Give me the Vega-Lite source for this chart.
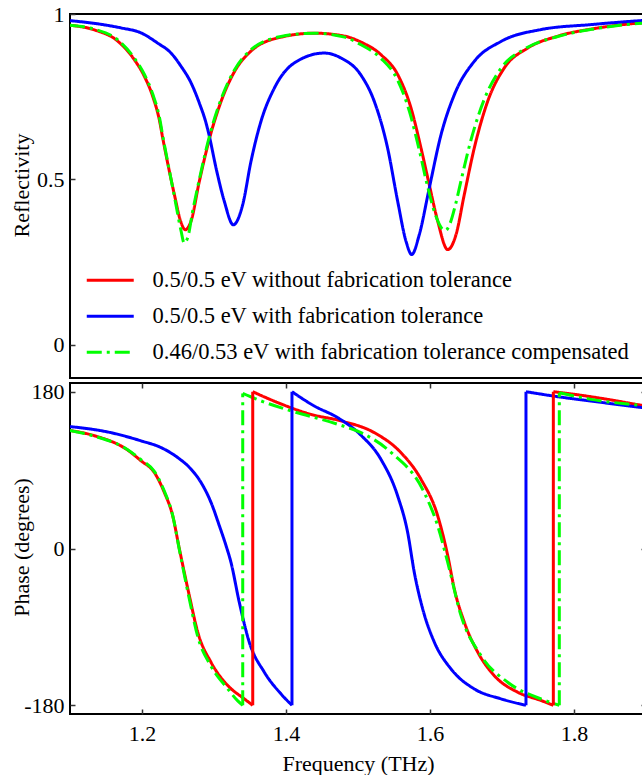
{
  "$schema": "https://vega.github.io/schema/vega-lite/v6.json",
  "padding": {"left": 9, "top": 2, "right": 0, "bottom": 0},
  "background": "white",
  "config": {
    "font": "Liberation Serif",
    "view": {"stroke": "black", "strokeWidth": 2},
    "axis": {
      "labelFont": "Liberation Serif", "labelFontSize": 22, "labelColor": "black",
      "titleFont": "Liberation Serif", "titleFontSize": 22, "titleFontWeight": "normal", "titleColor": "black",
      "grid": false, "domain": false, "tickSize": -5, "tickColor": "#333", "tickWidth": 1.5
    },
    "legend": {"padding": 0}
  },
  "datasets": {
    "refl": [
      {"s": "0.5/0.5 eV without fabrication tolerance", "f": 1.1, "r": 0.966},
      {"s": "0.5/0.5 eV without fabrication tolerance", "f": 1.1338, "r": 0.952},
      {"s": "0.5/0.5 eV without fabrication tolerance", "f": 1.1663, "r": 0.918},
      {"s": "0.5/0.5 eV without fabrication tolerance", "f": 1.1893, "r": 0.862},
      {"s": "0.5/0.5 eV without fabrication tolerance", "f": 1.2032, "r": 0.812},
      {"s": "0.5/0.5 eV without fabrication tolerance", "f": 1.2149, "r": 0.751},
      {"s": "0.5/0.5 eV without fabrication tolerance", "f": 1.224, "r": 0.681},
      {"s": "0.5/0.5 eV without fabrication tolerance", "f": 1.2288, "r": 0.625},
      {"s": "0.5/0.5 eV without fabrication tolerance", "f": 1.2333, "r": 0.575},
      {"s": "0.5/0.5 eV without fabrication tolerance", "f": 1.2449, "r": 0.455},
      {"s": "0.5/0.5 eV without fabrication tolerance", "f": 1.2542, "r": 0.37},
      {"s": "0.5/0.5 eV without fabrication tolerance", "f": 1.2601, "r": 0.348},
      {"s": "0.5/0.5 eV without fabrication tolerance", "f": 1.2681, "r": 0.374},
      {"s": "0.5/0.5 eV without fabrication tolerance", "f": 1.2796, "r": 0.494},
      {"s": "0.5/0.5 eV without fabrication tolerance", "f": 1.2958, "r": 0.64},
      {"s": "0.5/0.5 eV without fabrication tolerance", "f": 1.3097, "r": 0.735},
      {"s": "0.5/0.5 eV without fabrication tolerance", "f": 1.3282, "r": 0.825},
      {"s": "0.5/0.5 eV without fabrication tolerance", "f": 1.3514, "r": 0.888},
      {"s": "0.5/0.5 eV without fabrication tolerance", "f": 1.3931, "r": 0.93},
      {"s": "0.5/0.5 eV without fabrication tolerance", "f": 1.4393, "r": 0.942},
      {"s": "0.5/0.5 eV without fabrication tolerance", "f": 1.4815, "r": 0.933},
      {"s": "0.5/0.5 eV without fabrication tolerance", "f": 1.5042, "r": 0.915},
      {"s": "0.5/0.5 eV without fabrication tolerance", "f": 1.5319, "r": 0.877},
      {"s": "0.5/0.5 eV without fabrication tolerance", "f": 1.5551, "r": 0.817},
      {"s": "0.5/0.5 eV without fabrication tolerance", "f": 1.5736, "r": 0.716},
      {"s": "0.5/0.5 eV without fabrication tolerance", "f": 1.5875, "r": 0.595},
      {"s": "0.5/0.5 eV without fabrication tolerance", "f": 1.599, "r": 0.484},
      {"s": "0.5/0.5 eV without fabrication tolerance", "f": 1.6107, "r": 0.374},
      {"s": "0.5/0.5 eV without fabrication tolerance", "f": 1.6246, "r": 0.288},
      {"s": "0.5/0.5 eV without fabrication tolerance", "f": 1.6361, "r": 0.333},
      {"s": "0.5/0.5 eV without fabrication tolerance", "f": 1.6476, "r": 0.454},
      {"s": "0.5/0.5 eV without fabrication tolerance", "f": 1.6615, "r": 0.595},
      {"s": "0.5/0.5 eV without fabrication tolerance", "f": 1.6801, "r": 0.736},
      {"s": "0.5/0.5 eV without fabrication tolerance", "f": 1.7032, "r": 0.837},
      {"s": "0.5/0.5 eV without fabrication tolerance", "f": 1.7357, "r": 0.897},
      {"s": "0.5/0.5 eV without fabrication tolerance", "f": 1.7774, "r": 0.933},
      {"s": "0.5/0.5 eV without fabrication tolerance", "f": 1.8282, "r": 0.956},
      {"s": "0.5/0.5 eV without fabrication tolerance", "f": 1.8931, "r": 0.973},
      {"s": "0.5/0.5 eV without fabrication tolerance", "f": 1.9, "r": 0.974},

      {"s": "0.5/0.5 eV with fabrication tolerance", "f": 1.1, "r": 0.98},
      {"s": "0.5/0.5 eV with fabrication tolerance", "f": 1.1425, "r": 0.969},
      {"s": "0.5/0.5 eV with fabrication tolerance", "f": 1.1708, "r": 0.958},
      {"s": "0.5/0.5 eV with fabrication tolerance", "f": 1.1986, "r": 0.943},
      {"s": "0.5/0.5 eV with fabrication tolerance", "f": 1.2218, "r": 0.912},
      {"s": "0.5/0.5 eV with fabrication tolerance", "f": 1.2403, "r": 0.882},
      {"s": "0.5/0.5 eV with fabrication tolerance", "f": 1.2542, "r": 0.842},
      {"s": "0.5/0.5 eV with fabrication tolerance", "f": 1.2681, "r": 0.792},
      {"s": "0.5/0.5 eV with fabrication tolerance", "f": 1.2796, "r": 0.731},
      {"s": "0.5/0.5 eV with fabrication tolerance", "f": 1.2889, "r": 0.671},
      {"s": "0.5/0.5 eV with fabrication tolerance", "f": 1.2935, "r": 0.631},
      {"s": "0.5/0.5 eV with fabrication tolerance", "f": 1.3028, "r": 0.535},
      {"s": "0.5/0.5 eV with fabrication tolerance", "f": 1.3143, "r": 0.434},
      {"s": "0.5/0.5 eV with fabrication tolerance", "f": 1.3268, "r": 0.363},
      {"s": "0.5/0.5 eV with fabrication tolerance", "f": 1.3399, "r": 0.424},
      {"s": "0.5/0.5 eV with fabrication tolerance", "f": 1.3514, "r": 0.555},
      {"s": "0.5/0.5 eV with fabrication tolerance", "f": 1.3653, "r": 0.676},
      {"s": "0.5/0.5 eV with fabrication tolerance", "f": 1.3838, "r": 0.776},
      {"s": "0.5/0.5 eV with fabrication tolerance", "f": 1.4115, "r": 0.852},
      {"s": "0.5/0.5 eV with fabrication tolerance", "f": 1.4532, "r": 0.882},
      {"s": "0.5/0.5 eV with fabrication tolerance", "f": 1.4764, "r": 0.867},
      {"s": "0.5/0.5 eV with fabrication tolerance", "f": 1.5042, "r": 0.815},
      {"s": "0.5/0.5 eV with fabrication tolerance", "f": 1.5226, "r": 0.736},
      {"s": "0.5/0.5 eV with fabrication tolerance", "f": 1.5411, "r": 0.595},
      {"s": "0.5/0.5 eV with fabrication tolerance", "f": 1.5551, "r": 0.434},
      {"s": "0.5/0.5 eV with fabrication tolerance", "f": 1.5667, "r": 0.313},
      {"s": "0.5/0.5 eV with fabrication tolerance", "f": 1.5746, "r": 0.273},
      {"s": "0.5/0.5 eV with fabrication tolerance", "f": 1.5851, "r": 0.333},
      {"s": "0.5/0.5 eV with fabrication tolerance", "f": 1.599, "r": 0.474},
      {"s": "0.5/0.5 eV with fabrication tolerance", "f": 1.6153, "r": 0.635},
      {"s": "0.5/0.5 eV with fabrication tolerance", "f": 1.6338, "r": 0.756},
      {"s": "0.5/0.5 eV with fabrication tolerance", "f": 1.6615, "r": 0.857},
      {"s": "0.5/0.5 eV with fabrication tolerance", "f": 1.6986, "r": 0.917},
      {"s": "0.5/0.5 eV with fabrication tolerance", "f": 1.7542, "r": 0.953},
      {"s": "0.5/0.5 eV with fabrication tolerance", "f": 1.8236, "r": 0.968},
      {"s": "0.5/0.5 eV with fabrication tolerance", "f": 1.8931, "r": 0.98},
      {"s": "0.5/0.5 eV with fabrication tolerance", "f": 1.9, "r": 0.981},

      {"s": "0.46/0.53 eV with fabrication tolerance compensated", "f": 1.1, "r": 0.966},
      {"s": "0.46/0.53 eV with fabrication tolerance compensated", "f": 1.1338, "r": 0.954},
      {"s": "0.46/0.53 eV with fabrication tolerance compensated", "f": 1.1663, "r": 0.922},
      {"s": "0.46/0.53 eV with fabrication tolerance compensated", "f": 1.1893, "r": 0.867},
      {"s": "0.46/0.53 eV with fabrication tolerance compensated", "f": 1.2032, "r": 0.818},
      {"s": "0.46/0.53 eV with fabrication tolerance compensated", "f": 1.2149, "r": 0.758},
      {"s": "0.46/0.53 eV with fabrication tolerance compensated", "f": 1.224, "r": 0.69},
      {"s": "0.46/0.53 eV with fabrication tolerance compensated", "f": 1.2288, "r": 0.632},
      {"s": "0.46/0.53 eV with fabrication tolerance compensated", "f": 1.2333, "r": 0.58},
      {"s": "0.46/0.53 eV with fabrication tolerance compensated", "f": 1.2449, "r": 0.45},
      {"s": "0.46/0.53 eV with fabrication tolerance compensated", "f": 1.2542, "r": 0.345},
      {"s": "0.46/0.53 eV with fabrication tolerance compensated", "f": 1.2585, "r": 0.308},
      {"s": "0.46/0.53 eV with fabrication tolerance compensated", "f": 1.264, "r": 0.328},
      {"s": "0.46/0.53 eV with fabrication tolerance compensated", "f": 1.27, "r": 0.4},
      {"s": "0.46/0.53 eV with fabrication tolerance compensated", "f": 1.2796, "r": 0.5},
      {"s": "0.46/0.53 eV with fabrication tolerance compensated", "f": 1.2958, "r": 0.648},
      {"s": "0.46/0.53 eV with fabrication tolerance compensated", "f": 1.3097, "r": 0.742},
      {"s": "0.46/0.53 eV with fabrication tolerance compensated", "f": 1.3282, "r": 0.83},
      {"s": "0.46/0.53 eV with fabrication tolerance compensated", "f": 1.3514, "r": 0.892},
      {"s": "0.46/0.53 eV with fabrication tolerance compensated", "f": 1.3931, "r": 0.932},
      {"s": "0.46/0.53 eV with fabrication tolerance compensated", "f": 1.4393, "r": 0.942},
      {"s": "0.46/0.53 eV with fabrication tolerance compensated", "f": 1.4815, "r": 0.93},
      {"s": "0.46/0.53 eV with fabrication tolerance compensated", "f": 1.5042, "r": 0.907},
      {"s": "0.46/0.53 eV with fabrication tolerance compensated", "f": 1.5319, "r": 0.866},
      {"s": "0.46/0.53 eV with fabrication tolerance compensated", "f": 1.5551, "r": 0.8},
      {"s": "0.46/0.53 eV with fabrication tolerance compensated", "f": 1.5715, "r": 0.705},
      {"s": "0.46/0.53 eV with fabrication tolerance compensated", "f": 1.585, "r": 0.59},
      {"s": "0.46/0.53 eV with fabrication tolerance compensated", "f": 1.5965, "r": 0.48},
      {"s": "0.46/0.53 eV with fabrication tolerance compensated", "f": 1.608, "r": 0.39},
      {"s": "0.46/0.53 eV with fabrication tolerance compensated", "f": 1.6165, "r": 0.352},
      {"s": "0.46/0.53 eV with fabrication tolerance compensated", "f": 1.6215, "r": 0.346},
      {"s": "0.46/0.53 eV with fabrication tolerance compensated", "f": 1.6275, "r": 0.365},
      {"s": "0.46/0.53 eV with fabrication tolerance compensated", "f": 1.635, "r": 0.42},
      {"s": "0.46/0.53 eV with fabrication tolerance compensated", "f": 1.6435, "r": 0.5},
      {"s": "0.46/0.53 eV with fabrication tolerance compensated", "f": 1.657, "r": 0.62},
      {"s": "0.46/0.53 eV with fabrication tolerance compensated", "f": 1.675, "r": 0.74},
      {"s": "0.46/0.53 eV with fabrication tolerance compensated", "f": 1.699, "r": 0.837},
      {"s": "0.46/0.53 eV with fabrication tolerance compensated", "f": 1.732, "r": 0.895},
      {"s": "0.46/0.53 eV with fabrication tolerance compensated", "f": 1.7774, "r": 0.932},
      {"s": "0.46/0.53 eV with fabrication tolerance compensated", "f": 1.8282, "r": 0.955},
      {"s": "0.46/0.53 eV with fabrication tolerance compensated", "f": 1.8931, "r": 0.972},
      {"s": "0.46/0.53 eV with fabrication tolerance compensated", "f": 1.9, "r": 0.973}
    ],
    "phase": [
      {"s": "0.5/0.5 eV without fabrication tolerance", "seg": 1, "f": 1.1, "p": 135.5},
      {"s": "0.5/0.5 eV without fabrication tolerance", "seg": 1, "f": 1.1338, "p": 129.5},
      {"s": "0.5/0.5 eV without fabrication tolerance", "seg": 1, "f": 1.1801, "p": 113},
      {"s": "0.5/0.5 eV without fabrication tolerance", "seg": 1, "f": 1.1986, "p": 100.7},
      {"s": "0.5/0.5 eV without fabrication tolerance", "seg": 1, "f": 1.2171, "p": 87.3},
      {"s": "0.5/0.5 eV without fabrication tolerance", "seg": 1, "f": 1.231, "p": 64.4},
      {"s": "0.5/0.5 eV without fabrication tolerance", "seg": 1, "f": 1.2426, "p": 37.7},
      {"s": "0.5/0.5 eV without fabrication tolerance", "seg": 1, "f": 1.2518, "p": 0},
      {"s": "0.5/0.5 eV without fabrication tolerance", "seg": 1, "f": 1.2657, "p": -54},
      {"s": "0.5/0.5 eV without fabrication tolerance", "seg": 1, "f": 1.2774, "p": -96},
      {"s": "0.5/0.5 eV without fabrication tolerance", "seg": 1, "f": 1.2958, "p": -130.5},
      {"s": "0.5/0.5 eV without fabrication tolerance", "seg": 1, "f": 1.319, "p": -157.2},
      {"s": "0.5/0.5 eV without fabrication tolerance", "seg": 1, "f": 1.3421, "p": -172.6},
      {"s": "0.5/0.5 eV without fabrication tolerance", "seg": 1, "f": 1.3538, "p": -180},
      {"s": "0.5/0.5 eV without fabrication tolerance", "seg": 2, "f": 1.3538, "p": 180},
      {"s": "0.5/0.5 eV without fabrication tolerance", "seg": 2, "f": 1.3885, "p": 167.5},
      {"s": "0.5/0.5 eV without fabrication tolerance", "seg": 2, "f": 1.4347, "p": 154},
      {"s": "0.5/0.5 eV without fabrication tolerance", "seg": 2, "f": 1.4764, "p": 146.5},
      {"s": "0.5/0.5 eV without fabrication tolerance", "seg": 2, "f": 1.5226, "p": 133},
      {"s": "0.5/0.5 eV without fabrication tolerance", "seg": 2, "f": 1.5597, "p": 110},
      {"s": "0.5/0.5 eV without fabrication tolerance", "seg": 2, "f": 1.5875, "p": 79.5},
      {"s": "0.5/0.5 eV without fabrication tolerance", "seg": 2, "f": 1.6107, "p": 37.5},
      {"s": "0.5/0.5 eV without fabrication tolerance", "seg": 2, "f": 1.6246, "p": -8},
      {"s": "0.5/0.5 eV without fabrication tolerance", "seg": 2, "f": 1.6338, "p": -46.5},
      {"s": "0.5/0.5 eV without fabrication tolerance", "seg": 2, "f": 1.6476, "p": -84.5},
      {"s": "0.5/0.5 eV without fabrication tolerance", "seg": 2, "f": 1.6663, "p": -119},
      {"s": "0.5/0.5 eV without fabrication tolerance", "seg": 2, "f": 1.6893, "p": -146},
      {"s": "0.5/0.5 eV without fabrication tolerance", "seg": 2, "f": 1.7218, "p": -165},
      {"s": "0.5/0.5 eV without fabrication tolerance", "seg": 2, "f": 1.7542, "p": -174.5},
      {"s": "0.5/0.5 eV without fabrication tolerance", "seg": 2, "f": 1.7713, "p": -180},
      {"s": "0.5/0.5 eV without fabrication tolerance", "seg": 3, "f": 1.7713, "p": 180},
      {"s": "0.5/0.5 eV without fabrication tolerance", "seg": 3, "f": 1.8004, "p": 177},
      {"s": "0.5/0.5 eV without fabrication tolerance", "seg": 3, "f": 1.8468, "p": 171.2},
      {"s": "0.5/0.5 eV without fabrication tolerance", "seg": 3, "f": 1.8958, "p": 164.3},
      {"s": "0.5/0.5 eV without fabrication tolerance", "seg": 3, "f": 1.9, "p": 163.8},

      {"s": "0.5/0.5 eV with fabrication tolerance", "seg": 1, "f": 1.1, "p": 140},
      {"s": "0.5/0.5 eV with fabrication tolerance", "seg": 1, "f": 1.1569, "p": 133},
      {"s": "0.5/0.5 eV with fabrication tolerance", "seg": 1, "f": 1.1986, "p": 123.6},
      {"s": "0.5/0.5 eV with fabrication tolerance", "seg": 1, "f": 1.2264, "p": 115.9},
      {"s": "0.5/0.5 eV with fabrication tolerance", "seg": 1, "f": 1.2496, "p": 104.4},
      {"s": "0.5/0.5 eV with fabrication tolerance", "seg": 1, "f": 1.2681, "p": 91.1},
      {"s": "0.5/0.5 eV with fabrication tolerance", "seg": 1, "f": 1.2819, "p": 75.9},
      {"s": "0.5/0.5 eV with fabrication tolerance", "seg": 1, "f": 1.2958, "p": 53},
      {"s": "0.5/0.5 eV with fabrication tolerance", "seg": 1, "f": 1.3074, "p": 26.2},
      {"s": "0.5/0.5 eV with fabrication tolerance", "seg": 1, "f": 1.3167, "p": 3.3},
      {"s": "0.5/0.5 eV with fabrication tolerance", "seg": 1, "f": 1.3236, "p": -16},
      {"s": "0.5/0.5 eV with fabrication tolerance", "seg": 1, "f": 1.3351, "p": -61.7},
      {"s": "0.5/0.5 eV with fabrication tolerance", "seg": 1, "f": 1.349, "p": -107.5},
      {"s": "0.5/0.5 eV with fabrication tolerance", "seg": 1, "f": 1.3699, "p": -142},
      {"s": "0.5/0.5 eV with fabrication tolerance", "seg": 1, "f": 1.3931, "p": -167},
      {"s": "0.5/0.5 eV with fabrication tolerance", "seg": 1, "f": 1.4083, "p": -180},
      {"s": "0.5/0.5 eV with fabrication tolerance", "seg": 2, "f": 1.4083, "p": 180},
      {"s": "0.5/0.5 eV with fabrication tolerance", "seg": 2, "f": 1.4393, "p": 163.6},
      {"s": "0.5/0.5 eV with fabrication tolerance", "seg": 2, "f": 1.4718, "p": 150.2},
      {"s": "0.5/0.5 eV with fabrication tolerance", "seg": 2, "f": 1.5042, "p": 130},
      {"s": "0.5/0.5 eV with fabrication tolerance", "seg": 2, "f": 1.5319, "p": 102.3},
      {"s": "0.5/0.5 eV with fabrication tolerance", "seg": 2, "f": 1.5551, "p": 60.3},
      {"s": "0.5/0.5 eV with fabrication tolerance", "seg": 2, "f": 1.569, "p": 18.3},
      {"s": "0.5/0.5 eV with fabrication tolerance", "seg": 2, "f": 1.5782, "p": -27.5},
      {"s": "0.5/0.5 eV with fabrication tolerance", "seg": 2, "f": 1.5899, "p": -69.5},
      {"s": "0.5/0.5 eV with fabrication tolerance", "seg": 2, "f": 1.606, "p": -107.5},
      {"s": "0.5/0.5 eV with fabrication tolerance", "seg": 2, "f": 1.6292, "p": -138.3},
      {"s": "0.5/0.5 eV with fabrication tolerance", "seg": 2, "f": 1.6615, "p": -161.2},
      {"s": "0.5/0.5 eV with fabrication tolerance", "seg": 2, "f": 1.6986, "p": -172.6},
      {"s": "0.5/0.5 eV with fabrication tolerance", "seg": 2, "f": 1.7333, "p": -180},
      {"s": "0.5/0.5 eV with fabrication tolerance", "seg": 3, "f": 1.7333, "p": 180},
      {"s": "0.5/0.5 eV with fabrication tolerance", "seg": 3, "f": 1.7774, "p": 174.3},
      {"s": "0.5/0.5 eV with fabrication tolerance", "seg": 3, "f": 1.8236, "p": 169.3},
      {"s": "0.5/0.5 eV with fabrication tolerance", "seg": 3, "f": 1.8958, "p": 161.7},
      {"s": "0.5/0.5 eV with fabrication tolerance", "seg": 3, "f": 1.9, "p": 161.3},

      {"s": "0.46/0.53 eV with fabrication tolerance compensated", "seg": 1, "f": 1.1, "p": 135.5},
      {"s": "0.46/0.53 eV with fabrication tolerance compensated", "seg": 1, "f": 1.1338, "p": 129},
      {"s": "0.46/0.53 eV with fabrication tolerance compensated", "seg": 1, "f": 1.1801, "p": 113.5},
      {"s": "0.46/0.53 eV with fabrication tolerance compensated", "seg": 1, "f": 1.1986, "p": 102},
      {"s": "0.46/0.53 eV with fabrication tolerance compensated", "seg": 1, "f": 1.2171, "p": 88.5},
      {"s": "0.46/0.53 eV with fabrication tolerance compensated", "seg": 1, "f": 1.231, "p": 66},
      {"s": "0.46/0.53 eV with fabrication tolerance compensated", "seg": 1, "f": 1.2426, "p": 38},
      {"s": "0.46/0.53 eV with fabrication tolerance compensated", "seg": 1, "f": 1.2518, "p": -1},
      {"s": "0.46/0.53 eV with fabrication tolerance compensated", "seg": 1, "f": 1.2657, "p": -58},
      {"s": "0.46/0.53 eV with fabrication tolerance compensated", "seg": 1, "f": 1.2774, "p": -101},
      {"s": "0.46/0.53 eV with fabrication tolerance compensated", "seg": 1, "f": 1.2958, "p": -135},
      {"s": "0.46/0.53 eV with fabrication tolerance compensated", "seg": 1, "f": 1.319, "p": -161},
      {"s": "0.46/0.53 eV with fabrication tolerance compensated", "seg": 1, "f": 1.333, "p": -175},
      {"s": "0.46/0.53 eV with fabrication tolerance compensated", "seg": 1, "f": 1.3399, "p": -180},
      {"s": "0.46/0.53 eV with fabrication tolerance compensated", "seg": 2, "f": 1.3399, "p": 178},
      {"s": "0.46/0.53 eV with fabrication tolerance compensated", "seg": 2, "f": 1.3653, "p": 169.4},
      {"s": "0.46/0.53 eV with fabrication tolerance compensated", "seg": 2, "f": 1.4069, "p": 158},
      {"s": "0.46/0.53 eV with fabrication tolerance compensated", "seg": 2, "f": 1.4718, "p": 142.6},
      {"s": "0.46/0.53 eV with fabrication tolerance compensated", "seg": 2, "f": 1.5042, "p": 133},
      {"s": "0.46/0.53 eV with fabrication tolerance compensated", "seg": 2, "f": 1.5458, "p": 110.4},
      {"s": "0.46/0.53 eV with fabrication tolerance compensated", "seg": 2, "f": 1.5921, "p": 64},
      {"s": "0.46/0.53 eV with fabrication tolerance compensated", "seg": 2, "f": 1.6107, "p": 26},
      {"s": "0.46/0.53 eV with fabrication tolerance compensated", "seg": 2, "f": 1.6246, "p": -16},
      {"s": "0.46/0.53 eV with fabrication tolerance compensated", "seg": 2, "f": 1.6431, "p": -77},
      {"s": "0.46/0.53 eV with fabrication tolerance compensated", "seg": 2, "f": 1.6708, "p": -123},
      {"s": "0.46/0.53 eV with fabrication tolerance compensated", "seg": 2, "f": 1.7079, "p": -153.6},
      {"s": "0.46/0.53 eV with fabrication tolerance compensated", "seg": 2, "f": 1.7542, "p": -172.8},
      {"s": "0.46/0.53 eV with fabrication tolerance compensated", "seg": 2, "f": 1.7796, "p": -180},
      {"s": "0.46/0.53 eV with fabrication tolerance compensated", "seg": 3, "f": 1.7796, "p": 178.9},
      {"s": "0.46/0.53 eV with fabrication tolerance compensated", "seg": 3, "f": 1.8236, "p": 171.2},
      {"s": "0.46/0.53 eV with fabrication tolerance compensated", "seg": 3, "f": 1.8958, "p": 164},
      {"s": "0.46/0.53 eV with fabrication tolerance compensated", "seg": 3, "f": 1.9, "p": 163.6}
    ],
    "jumps": [
      {"s": "0.5/0.5 eV without fabrication tolerance", "f": 1.3538, "lo": -180, "hi": 180},
      {"s": "0.5/0.5 eV without fabrication tolerance", "f": 1.7713, "lo": -180, "hi": 180},
      {"s": "0.5/0.5 eV with fabrication tolerance", "f": 1.4083, "lo": -180, "hi": 180},
      {"s": "0.5/0.5 eV with fabrication tolerance", "f": 1.7333, "lo": -180, "hi": 180},
      {"s": "0.46/0.53 eV with fabrication tolerance compensated", "f": 1.3399, "lo": -180, "hi": 178},
      {"s": "0.46/0.53 eV with fabrication tolerance compensated", "f": 1.7796, "lo": -180, "hi": 178.9}
    ]
  },
  "spacing": 0,
  "resolve": {"scale": {"color": "independent", "strokeDash": "independent"}},
  "vconcat": [
    {
      "width": 576,
      "height": 364,
      "data": {"name": "refl"},
      "mark": {"type": "line", "interpolate": "monotone", "strokeWidth": 3, "clip": true},
      "encoding": {
        "x": {"field": "f", "type": "quantitative", "scale": {"domain": [1.1, 1.9], "nice": false, "zero": false}, "axis": null},
        "y": {"field": "r", "type": "quantitative", "scale": {"domain": [-0.1, 1], "nice": false, "zero": false},
              "axis": {"values": [0, 0.5, 1], "labelExpr": "'' + datum.value", "labelPadding": 11, "title": "Reflectivity", "titleX": -49, "titleY": 171, "titleAngle": -90, "titleBaseline": "middle"}},
        "color": {"field": "s", "type": "nominal",
                  "scale": {"domain": ["0.5/0.5 eV without fabrication tolerance", "0.5/0.5 eV with fabrication tolerance", "0.46/0.53 eV with fabrication tolerance compensated"], "range": ["#ff0000", "#0000ff", "#00ff00"]},
                  "legend": {"orient": "none", "legendX": 29, "legendY": 255, "title": null, "symbolType": "M-4,0H4", "symbolSize": 138, "symbolStrokeWidth": 3, "labelFont": "Liberation Serif", "labelFontSize": 22.5, "labelColor": "black", "labelLimit": 0, "labelOffset": 31, "rowPadding": 13, "padding": 0}},
        "strokeDash": {"field": "s", "type": "nominal",
                  "scale": {"domain": ["0.5/0.5 eV without fabrication tolerance", "0.5/0.5 eV with fabrication tolerance", "0.46/0.53 eV with fabrication tolerance compensated"], "range": [[1, 0], [1, 0], [15, 5, 3, 5]]},
                  "legend": {"orient": "none", "legendX": 29, "legendY": 255, "title": null, "symbolType": "M-4,0H4", "symbolSize": 138, "symbolStrokeWidth": 3, "labelFont": "Liberation Serif", "labelFontSize": 22.5, "labelColor": "black", "labelLimit": 0, "labelOffset": 31, "rowPadding": 13, "padding": 0}}
      }
    },
    {
      "width": 576,
      "height": 331,
      "layer": [
        {
          "data": {"name": "phase"},
          "mark": {"type": "line", "interpolate": "monotone", "strokeWidth": 3, "clip": true},
          "encoding": {
            "x": {"field": "f", "type": "quantitative", "scale": {"domain": [1.1, 1.9], "nice": false, "zero": false},
                  "axis": {"values": [1.2, 1.4, 1.6, 1.8], "labelExpr": "'' + datum.value", "labelPadding": 14, "title": "Frequency (THz)", "titlePadding": 9}},
            "y": {"field": "p", "type": "quantitative", "scale": {"domain": [-190, 190], "nice": false, "zero": false},
                  "axis": {"values": [-180, 0, 180], "labelExpr": "'' + datum.value", "labelPadding": 11, "title": "Phase (degrees)", "titleX": -49, "titleY": 164, "titleAngle": -90, "titleBaseline": "middle"}},
            "detail": {"field": "seg", "type": "nominal"},
            "color": {"field": "s", "type": "nominal",
                      "scale": {"domain": ["0.5/0.5 eV without fabrication tolerance", "0.5/0.5 eV with fabrication tolerance", "0.46/0.53 eV with fabrication tolerance compensated"], "range": ["#ff0000", "#0000ff", "#00ff00"]},
                      "legend": null},
            "strokeDash": {"field": "s", "type": "nominal",
                      "scale": {"domain": ["0.5/0.5 eV without fabrication tolerance", "0.5/0.5 eV with fabrication tolerance", "0.46/0.53 eV with fabrication tolerance compensated"], "range": [[1, 0], [1, 0], [15, 5, 3, 5]]},
                      "legend": null}
          }
        },
        {
          "data": {"name": "jumps"},
          "mark": {"type": "rule", "strokeWidth": 3},
          "encoding": {
            "x": {"field": "f", "type": "quantitative", "scale": {"domain": [1.1, 1.9], "nice": false, "zero": false},
                  "axis": {"orient": "top", "values": [1.2, 1.4, 1.6, 1.8], "labels": false, "title": null}},
            "y": {"field": "lo", "type": "quantitative", "scale": {"domain": [-190, 190], "nice": false, "zero": false},
                  "axis": {"orient": "right", "values": [-180, 0, 180], "labels": false, "title": null}},
            "y2": {"field": "hi"},
            "color": {"field": "s", "type": "nominal", "legend": null},
            "strokeDash": {"field": "s", "type": "nominal", "legend": null}
          }
        }
      ],
      "resolve": {"axis": {"x": "independent", "y": "independent"}}
    }
  ]
}
